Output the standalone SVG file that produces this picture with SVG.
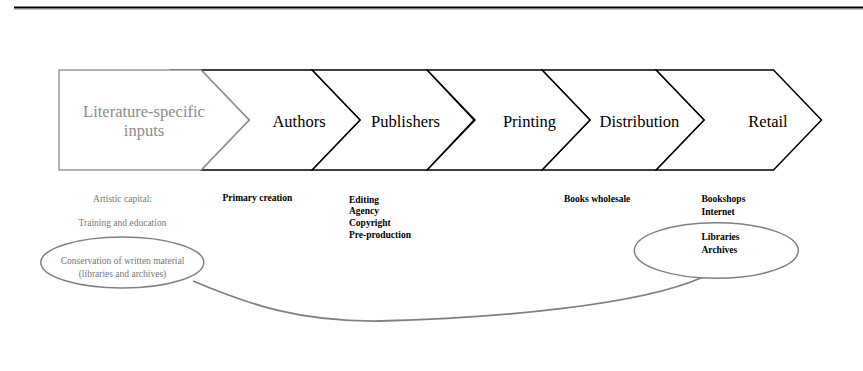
<svg xmlns="http://www.w3.org/2000/svg" width="863" height="371" viewBox="0 0 863 371">
<style>
.chev{fill:#fff;stroke:#000;stroke-width:1.5}
.chev0{fill:#fff;stroke:#999;stroke-width:1.5}
text{font-family:'Liberation Serif','Times New Roman',Times,serif}
.big{font-size:16.5px;fill:#000;text-anchor:middle}
.bigg{font-size:16.5px;fill:#8c8c8c;text-anchor:middle}
.sm{font-size:9.5px;font-weight:bold;fill:#000}
.smg{font-size:9.5px;fill:#777;text-anchor:middle}
.ell{fill:none;stroke:#808080;stroke-width:1.5}
.conn{fill:none;stroke:#808080;stroke-width:1.8}
</style>
<line x1="14" y1="7.5" x2="863" y2="7.5" stroke="#000" stroke-width="2.2"/>
<line x1="14" y1="9" x2="863" y2="9" stroke="#777" stroke-width="0.8"/>

<g id="n-retail">
<polygon class="chev" points="656,70 773.5,70 821.5,120 773.5,170 656,170 704,120"/>
<text class="big" x="768" y="127" font-family="Liberation Serif, serif">Retail</text>
</g>
<g id="n-distribution">
<polygon class="chev" points="542,70 656,70 704,120 656,170 542,170 590,120"/>
<text class="big" x="639.5" y="127" font-family="Liberation Serif, serif">Distribution</text>
</g>
<g id="n-printing">
<polygon class="chev" points="427,70 542,70 590,120 542,170 427,170 475,120"/>
<text class="big" x="529.5" y="127" font-family="Liberation Serif, serif">Printing</text>
</g>
<g id="n-publishers">
<polygon class="chev" points="312,70 427,70 474,120 427,170 312,170 360,120"/>
<text class="big" x="405.5" y="127" font-family="Liberation Serif, serif">Publishers</text>
</g>
<g id="n-authors">
<polygon class="chev" points="170,70 312,70 360,120 312,170 201,170 249,120 201,70"/>
<text class="big" x="299" y="127" font-family="Liberation Serif, serif">Authors</text>
</g>
<g id="n-inputs">
<polygon class="chev0" points="59,70 201,70 249,120 201,170 59,170"/>
<text class="bigg" x="144" y="117" font-family="Liberation Serif, serif">Literature-specific</text>
<text class="bigg" x="144" y="136" font-family="Liberation Serif, serif">inputs</text>
</g>

<g id="t-inputs">
<text class="smg" x="122.5" y="201.5" font-family="Liberation Serif, serif">Artistic capital:</text>
<text class="smg" x="122.5" y="226" font-family="Liberation Serif, serif">Training and education</text>
</g>
<g id="n-conservation">
<ellipse class="ell" cx="122.3" cy="262.5" rx="81.5" ry="25.5"/>
<text class="smg" x="122.5" y="264" font-family="Liberation Serif, serif">Conservation of written material</text>
<text class="smg" x="122.5" y="276.5" font-family="Liberation Serif, serif">(libraries and archives)</text>
</g>
<g id="t-authors">
<text class="sm" x="222.5" y="201" font-family="Liberation Serif, serif">Primary creation</text>
</g>
<g id="t-publishers">
<text class="sm" x="349" y="202.5" font-family="Liberation Serif, serif">Editing</text>
<text class="sm" x="349" y="214" font-family="Liberation Serif, serif">Agency</text>
<text class="sm" x="349" y="225.5" font-family="Liberation Serif, serif">Copyright</text>
<text class="sm" x="349" y="237.5" font-family="Liberation Serif, serif">Pre-production</text>
</g>
<g id="t-distribution">
<text class="sm" x="564" y="202" font-family="Liberation Serif, serif">Books wholesale</text>
</g>
<g id="t-retail">
<text class="sm" x="701.5" y="202" font-family="Liberation Serif, serif">Bookshops</text>
<text class="sm" x="701.5" y="214.5" font-family="Liberation Serif, serif">Internet</text>
</g>
<g id="n-libraries">
<ellipse class="ell" cx="716.3" cy="250.5" rx="82" ry="27.8"/>
<text class="sm" x="701.5" y="240" font-family="Liberation Serif, serif">Libraries</text>
<text class="sm" x="701.5" y="252.5" font-family="Liberation Serif, serif">Archives</text>
</g>

<g id="connectors">
<path class="conn" d="M193,281 C250,305 300,322 380,321 C500,318 640,305 702,277.5"/>
</g>
</svg>
